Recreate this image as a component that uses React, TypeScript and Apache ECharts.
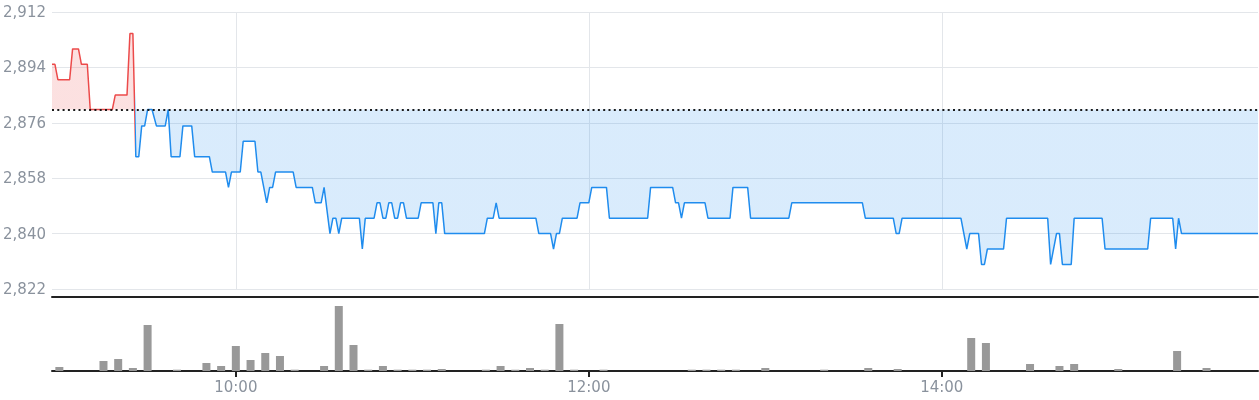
import React, { useEffect, useRef } from "react";
import * as echarts from "echarts";

// ---- data ----
const PREV_CLOSE = 2880.3;
const Y_MIN = 2822;
const Y_MAX = 2912;
const Y_STEP = 18;
const SESSION_START = "08:57:30";
const SESSION_END = "15:47:30";
const X_TICK_TIMES = ["10:00", "12:00", "14:00"];

const priceTimes = [
  "08:57:30", "08:58:30", "08:59:30", "09:03:30", "09:04:30", "09:06:30", "09:07:30", "09:09:30",
  "09:10:30", "09:18:00", "09:19:00", "09:23:00", "09:24:00", "09:25:00", "09:26:00", "09:27:00",
  "09:28:00", "09:29:00", "09:30:00", "09:31:30", "09:33:00", "09:36:00", "09:37:00", "09:38:00",
  "09:41:00", "09:42:00", "09:45:00", "09:46:00", "09:51:00", "09:52:00", "09:56:30", "09:57:30",
  "09:58:30", "10:01:30", "10:02:30", "10:06:30", "10:07:30", "10:08:30", "10:10:30", "10:11:30",
  "10:12:30", "10:13:30", "10:19:30", "10:20:30", "10:26:00", "10:27:00", "10:29:00", "10:30:00",
  "10:32:00", "10:33:00", "10:34:00", "10:35:00", "10:36:00", "10:42:00", "10:43:00", "10:44:00",
  "10:47:00", "10:48:00", "10:49:00", "10:50:00", "10:51:00", "10:52:00", "10:53:00", "10:54:00",
  "10:55:00", "10:56:00", "10:57:00", "10:58:00", "11:02:00", "11:03:00", "11:07:00", "11:08:00",
  "11:09:00", "11:10:00", "11:11:00", "11:24:30", "11:25:30", "11:27:30", "11:28:30", "11:29:30",
  "11:42:00", "11:43:00", "11:47:00", "11:48:00", "11:49:00", "11:50:00", "11:51:00", "11:56:00",
  "11:57:00", "12:00:00", "12:01:00", "12:06:00", "12:07:00", "12:20:00", "12:21:00", "12:28:30",
  "12:29:30", "12:30:30", "12:31:30", "12:32:30", "12:39:30", "12:40:30", "12:48:00", "12:49:00",
  "12:54:00", "12:55:00", "13:08:00", "13:09:00", "13:33:00", "13:34:00", "13:43:30", "13:44:30",
  "13:45:30", "13:46:30", "14:06:30", "14:08:30", "14:09:30", "14:12:30", "14:13:30", "14:14:30",
  "14:15:30", "14:21:00", "14:22:00", "14:36:00", "14:37:00", "14:39:00", "14:40:00", "14:41:00",
  "14:44:00", "14:45:00", "14:54:30", "14:55:30", "15:10:00", "15:11:00", "15:18:30", "15:19:30",
  "15:20:30", "15:21:30", "15:47:30",
];
const priceValues = [
  2895, 2895, 2890, 2890, 2900, 2900, 2895, 2895,
  2880.3, 2880.3, 2885, 2885, 2905, 2905, 2865, 2865,
  2875, 2875, 2880.3, 2880.3, 2875, 2875, 2880.3, 2865,
  2865, 2875, 2875, 2865, 2865, 2860, 2860, 2855,
  2860, 2860, 2870, 2870, 2860, 2860, 2850, 2855,
  2855, 2860, 2860, 2855, 2855, 2850, 2850, 2855,
  2840, 2845, 2845, 2840, 2845, 2845, 2835, 2845,
  2845, 2850, 2850, 2845, 2845, 2850, 2850, 2845,
  2845, 2850, 2850, 2845, 2845, 2850, 2850, 2840,
  2850, 2850, 2840, 2840, 2845, 2845, 2850, 2845,
  2845, 2840, 2840, 2835, 2840, 2840, 2845, 2845,
  2850, 2850, 2855, 2855, 2845, 2845, 2855, 2855,
  2850, 2850, 2845, 2850, 2850, 2845, 2845, 2855,
  2855, 2845, 2845, 2850, 2850, 2845, 2845, 2840,
  2840, 2845, 2845, 2835, 2840, 2840, 2830, 2830,
  2835, 2835, 2845, 2845, 2830, 2840, 2840, 2830,
  2830, 2845, 2845, 2835, 2835, 2845, 2845, 2835,
  2845, 2840, 2840,
];

const volumeTimes = [
  "09:00", "09:15", "09:20", "09:25", "09:30", "09:40", "09:50", "09:55",
  "10:00", "10:05", "10:10", "10:15", "10:20", "10:30", "10:35", "10:40",
  "10:45", "10:50", "10:55", "11:00", "11:05", "11:10", "11:25", "11:30",
  "11:35", "11:40", "11:45", "11:50", "11:55", "12:05", "12:35", "12:40",
  "12:45", "12:50", "13:00", "13:20", "13:35", "13:45", "14:10", "14:15",
  "14:30", "14:40", "14:45", "15:00", "15:20", "15:30",
];
const volumeValues = [
  4, 10, 12, 3, 46, 1.3, 8, 5,
  25, 11, 18, 15, 1.3, 5, 65, 26,
  1.3, 5, 1.3, 1.3, 1.3, 2, 1.3, 5,
  1.3, 3, 1.3, 47, 1.3, 1.3, 1.3, 1.3,
  1.3, 1.3, 3, 1.3, 3, 2, 33, 28,
  7, 5, 7, 2, 20, 3,
];
const VOLUME_MAX = 74;

// ---- styles ----
const RED = "#ec4a4a";
const BLUE = "#1f8cee";
const LABEL_COLOR = "#8a929d";
const GRID_COLOR = "#e3e6ea";
const FONT = "DejaVu Sans";

// minutes of the day
const toMin = (s: string) => {
  const p = s.split(":").map(Number);
  return p[0] * 60 + p[1] + (p[2] || 0) / 60;
};
const pad = (n: number) => (n < 10 ? "0" + n : "" + n);
const fmtTime = (v: number) => {
  const m = Math.round(v);
  return pad(Math.floor(m / 60)) + ":" + pad(m % 60);
};

// time where the price first crosses below the previous close
const crossMin = (() => {
  for (let i = 1; i < priceValues.length; i++) {
    const a = priceValues[i - 1];
    const b = priceValues[i];
    if (a > PREV_CLOSE && b < PREV_CLOSE) {
      const ta = toMin(priceTimes[i - 1]);
      const tb = toMin(priceTimes[i]);
      return ta + ((a - PREV_CLOSE) / (a - b)) * (tb - ta);
    }
  }
  return toMin(SESSION_START);
})();

export default function App() {
  const ref = useRef<HTMLDivElement>(null);
  useEffect(() => {
    if (!ref.current) return;
    const chart = echarts.init(ref.current, null, { renderer: "svg" });
    const xMin = toMin(SESSION_START);
    const xMax = toMin(SESSION_END);
    const tickValues = X_TICK_TIMES.map(toMin);
    chart.setOption({
      animation: false,
      textStyle: { fontFamily: FONT },
      grid: [
        { left: 52, right: 1, top: 12, height: 277 },
        { left: 52, right: 1, top: 297, height: 74 },
      ],
      visualMap: {
        show: false,
        type: "piecewise",
        seriesIndex: 0,
        dimension: 0,
        pieces: [
          { gte: xMin - 1, lt: crossMin, color: RED },
          { gte: crossMin, lte: xMax + 1, color: BLUE },
        ],
      },
      xAxis: [
        {
          type: "value",
          gridIndex: 0,
          min: xMin,
          max: xMax,
          axisLine: { show: false },
          axisTick: { show: false, customValues: tickValues },
          axisLabel: { show: false, customValues: tickValues },
          splitLine: { show: true, lineStyle: { color: GRID_COLOR, width: 1 } },
        },
        {
          type: "value",
          gridIndex: 1,
          min: xMin,
          max: xMax,
          axisLine: { show: true, onZero: false, lineStyle: { color: "#222", width: 2 } },
          axisTick: {
            show: true,
            length: 6,
            customValues: tickValues,
            lineStyle: { color: "#222", width: 2 },
          },
          axisLabel: {
            show: true,
            customValues: tickValues,
            color: LABEL_COLOR,
            fontSize: 15,
            fontFamily: FONT,
            margin: 8,
            formatter: (v: number) => fmtTime(v),
          },
          splitLine: { show: false },
        },
        {
          type: "value",
          gridIndex: 1,
          position: "top",
          min: xMin,
          max: xMax,
          axisLine: { show: true, onZero: false, lineStyle: { color: "#222", width: 2 } },
          axisTick: { show: false },
          axisLabel: { show: false },
          splitLine: { show: false },
        },
      ],
      yAxis: [
        {
          type: "value",
          gridIndex: 0,
          min: Y_MIN,
          max: Y_MAX,
          interval: Y_STEP,
          axisLine: { show: false },
          axisTick: { show: false },
          axisLabel: {
            color: LABEL_COLOR,
            fontSize: 15,
            fontFamily: FONT,
            margin: 6,
            formatter: (v: number) => v.toLocaleString("en-US"),
          },
          splitLine: { show: true, lineStyle: { color: GRID_COLOR, width: 1 } },
        },
        {
          type: "value",
          gridIndex: 1,
          min: 0,
          max: VOLUME_MAX,
          show: false,
          splitLine: { show: false },
        },
      ],
      series: [
        {
          type: "line",
          xAxisIndex: 0,
          yAxisIndex: 0,
          data: priceTimes.map((t, i) => [toMin(t), priceValues[i]]),
          symbol: "none",
          showSymbol: false,
          lineStyle: { width: 1.5 },
          areaStyle: { origin: PREV_CLOSE, opacity: 0.17 },
          markLine: {
            silent: true,
            symbol: ["none", "none"],
            label: { show: false },
            lineStyle: { color: "#1a1a1a", type: [2, 3.3], width: 2 },
            data: [{ yAxis: PREV_CLOSE }],
          },
        },
        {
          type: "bar",
          xAxisIndex: 1,
          yAxisIndex: 1,
          data: volumeTimes.map((t, i) => [toMin(t), volumeValues[i]]),
          barWidth: 8,
          itemStyle: { color: "#999999" },
        },
      ],
    });
    return () => chart.dispose();
  }, []);
  return (
    <div
      ref={ref}
      style={{ position: "fixed", left: 0, top: 0, width: 1259, height: 400 }}
    />
  );
}
